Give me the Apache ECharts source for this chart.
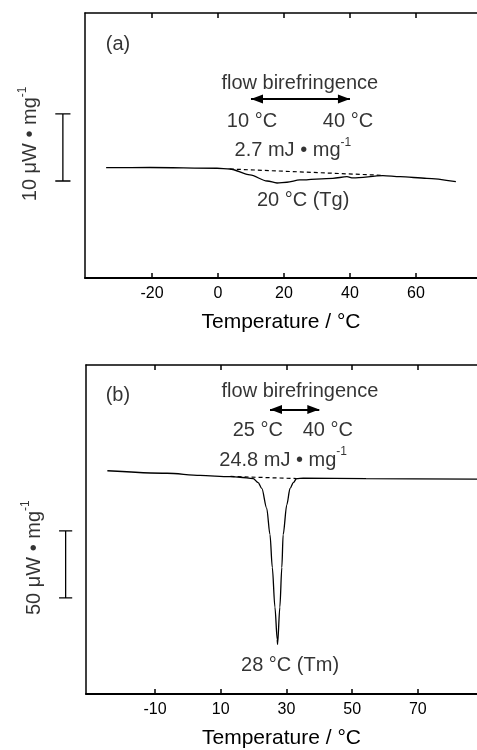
<!DOCTYPE html>
<html>
<head>
<meta charset="utf-8">
<script src="https://cdn.jsdelivr.net/npm/echarts@6/dist/echarts.min.js"></script>
<style>
html, body { margin: 0; padding: 0; background: #fff; }
#main { width: 477px; height: 750px; }
</style>
</head>
<body>
<div id="main"></div>
<script>
// (a) Tg 曲线
var tempA = [-33.9, -20.6, -0.3, 3.6, 9.7, 14.9, 17.9, 20.9, 24.8, 34.8, 39.1, 40.9, 50.0, 55.2, 63.3, 72.1];
var flowA = [0.04, 0.07, -0.04, -0.15, -1.04, -1.94, -2.24, -2.13, -1.79, -1.54, -1.3, -1.49, -1.15, -1.3, -1.54, -2.04];
var baseA = [[3.6, -0.15], [50, -1.1]];
var arrowA = [10, 40, 10.3];          // 起点, 终点, 高度
var scaleA = [-47, -1.94, 10];        // x, 下端, 长度(10 μW/mg)
var ticksA = [-20, 0, 20, 40, 60];

// (b) Tm 曲线
var tempB = [-24.5, -6.3, 3.7, 12.8, 15.9, 19.9, 21.4, 22.5, 24.0, 25.0, 25.7, 26.5, 27.2, 27.3, 28.0, 28.6, 29.0, 30.1, 31.1, 32.1, 33.1, 35.1, 54.2, 88];
var flowB = [0, -1.9, -3.5, -4.5, -4.9, -6.0, -9.0, -13.4, -28.4, -48.3, -73.1, -103, -127.6, -131.3, -103, -73.1, -48.3, -25.9, -13.4, -9.0, -6.0, -5.6, -6.0, -6.3];
var baseB = [[13, -4.3], [33, -5.9]];
var arrowB = [25, 40, 46.3];
var scaleB = [-37.2, -94, 50];        // 50 μW/mg
var ticksB = [-10, 10, 30, 50, 70];

// 文字标注 [x, y, 文本]
var notesA = [
    [-30.3, 18.5, '(a)'],
    [24.8, 12.6, 'flow birefringence'],
    [10.3, 7.0, '10 °C'],
    [39.4, 7.0, '40 °C'],
    [22.7, 2.6, '{t|2.7 mJ • mg}{s|-1}'],
    [25.8, -4.8, '20 °C (Tg)']
];
var notesB = [
    [-21.3, 56.5, '(b)'],
    [34.1, 60.0, 'flow birefringence'],
    [21.3, 30.5, '25 °C'],
    [42.6, 30.5, '40 °C'],
    [29, 8.0, '{t|24.8 mJ • mg}{s|-1}'],
    [31.1, -147.5, '28 °C (Tm)']
];
var yLabelA = [-56.7, 3.6, '{t|10 μW • mg}{s|-1}'];
var yLabelB = [-46.8, -65.7, '{t|50 μW • mg}{s|-1}'];

var FONT = 'Liberation Sans, Arial, sans-serif';
var myChart = echarts.init(document.getElementById('main'));

function zip(xs, ys) {
    var out = [];
    for (var i = 0; i < xs.length; i++) out.push([xs[i], ys[i]]);
    return out;
}

// 标尺: 竖线 + 两端短横
function scalePath(s, half) {
    var x = s[0], y0 = s[1], y1 = s[1] + s[2];
    return [[x - half, y1], [x + half, y1], [x, y1], [x, y0], [x - half, y0], [x + half, y0]];
}

var rich = {
    t: { fontSize: 20, lineHeight: 28, color: '#000', fontFamily: FONT },
    s: { fontSize: 12, lineHeight: 9, verticalAlign: 'top', color: '#000', fontFamily: FONT }
};

function makeX(grid, min, max, ticks, pos) {
    var bottom = pos === 'bottom';
    return {
        type: 'value', gridIndex: grid, min: min, max: max, position: pos,
        axisLine: { show: true, onZero: false, lineStyle: { color: '#000', width: bottom ? 2 : 1.5 } },
        axisTick: { show: true, inside: true, length: 5, customValues: ticks, lineStyle: { color: '#000', width: 1.5 } },
        axisLabel: { show: bottom, customValues: ticks, color: '#000', fontSize: 16, fontFamily: FONT, margin: 8 },
        splitLine: { show: false },
        name: bottom ? 'Temperature / °C' : '',
        nameLocation: 'middle', nameGap: 34,
        nameTextStyle: { color: '#000', fontSize: 21, fontFamily: FONT }
    };
}

function makeY(grid, min, max, show) {
    return {
        type: 'value', gridIndex: grid, min: min, max: max, show: show,
        axisLine: { show: true, onZero: false, lineStyle: { color: '#000', width: 1.5 } },
        axisTick: { show: false }, axisLabel: { show: false }, splitLine: { show: false }
    };
}

// 左侧标尺用的隐藏坐标轴
function hiddenX(grid, min, max) {
    return { type: 'value', gridIndex: grid, min: min, max: max, show: false };
}

function panelSeries(xi, yi, sx, sy, curve, base, arrow, scale, half, notes, yLabel) {
    return [
        {
            type: 'line', xAxisIndex: xi, yAxisIndex: yi, data: curve,
            symbol: 'none', smooth: 0.3, smoothMonotone: 'x',
            lineStyle: { color: '#000', width: 1.3 }, silent: true
        },
        {
            type: 'line', xAxisIndex: xi, yAxisIndex: yi, data: base,
            symbol: 'none', lineStyle: { color: '#000', width: 1.2, type: [4, 3] }, silent: true,
            markLine: {
                silent: true, symbol: ['triangle', 'triangle'], symbolSize: [9, 12],
                symbolOffset: [[0, 6], [0, 6]],   // 箭头尖对准端点
                label: { show: false },
                lineStyle: { color: '#000', width: 2, type: 'solid' },
                itemStyle: { color: '#000' },
                data: [[{ coord: [arrow[0], arrow[2]] }, { coord: [arrow[1], arrow[2]] }]]
            }
        },
        {
            type: 'line', xAxisIndex: sx, yAxisIndex: sy, data: scalePath(scale, half),
            symbol: 'none', lineStyle: { color: '#000', width: 1.3 }, silent: true
        },
        {
            type: 'scatter', xAxisIndex: xi, yAxisIndex: yi, clip: false, symbolSize: 0, silent: true,
            data: notes.map(function (n) {
                return { value: [n[0], n[1]], label: { formatter: n[2] } };
            }).concat([{ value: [yLabel[0], yLabel[1]], label: { formatter: yLabel[2], rotate: 90 } }]),
            label: { show: true, position: 'inside', color: '#000', fontSize: 20, fontFamily: FONT, rich: rich }
        }
    ];
}

myChart.setOption({
    animation: false,
    backgroundColor: '#fff',
    grid: [
        { left: 85, top: 13, right: 0, height: 265 },
        { left: 86, top: 365, right: 0, height: 333 },
        { left: 50, top: 13, width: 35, height: 265 },
        { left: 50, top: 365, width: 36, height: 333 }
    ],
    xAxis: [
        makeX(0, -40.3, 78.5, ticksA, 'bottom'),
        makeX(0, -40.3, 78.5, ticksA, 'top'),
        makeX(1, -31, 88, ticksB, 'bottom'),
        makeX(1, -31, 88, ticksB, 'top'),
        hiddenX(2, -50.9, -40.3),
        hiddenX(3, -41.96, -31)
    ],
    yAxis: [
        makeY(0, -16.42, 23.13, true),
        makeY(1, -168.7, 79.9, true),
        makeY(2, -16.42, 23.13, false),
        makeY(3, -168.7, 79.9, false)
    ],
    series: panelSeries(0, 0, 4, 2, zip(tempA, flowA), baseA, arrowA, scaleA, 2.3, notesA, yLabelA)
        .concat(panelSeries(2, 1, 5, 3, zip(tempB, flowB), baseB, arrowB, scaleB, 2.0, notesB, yLabelB))
});
</script>
</body>
</html>
